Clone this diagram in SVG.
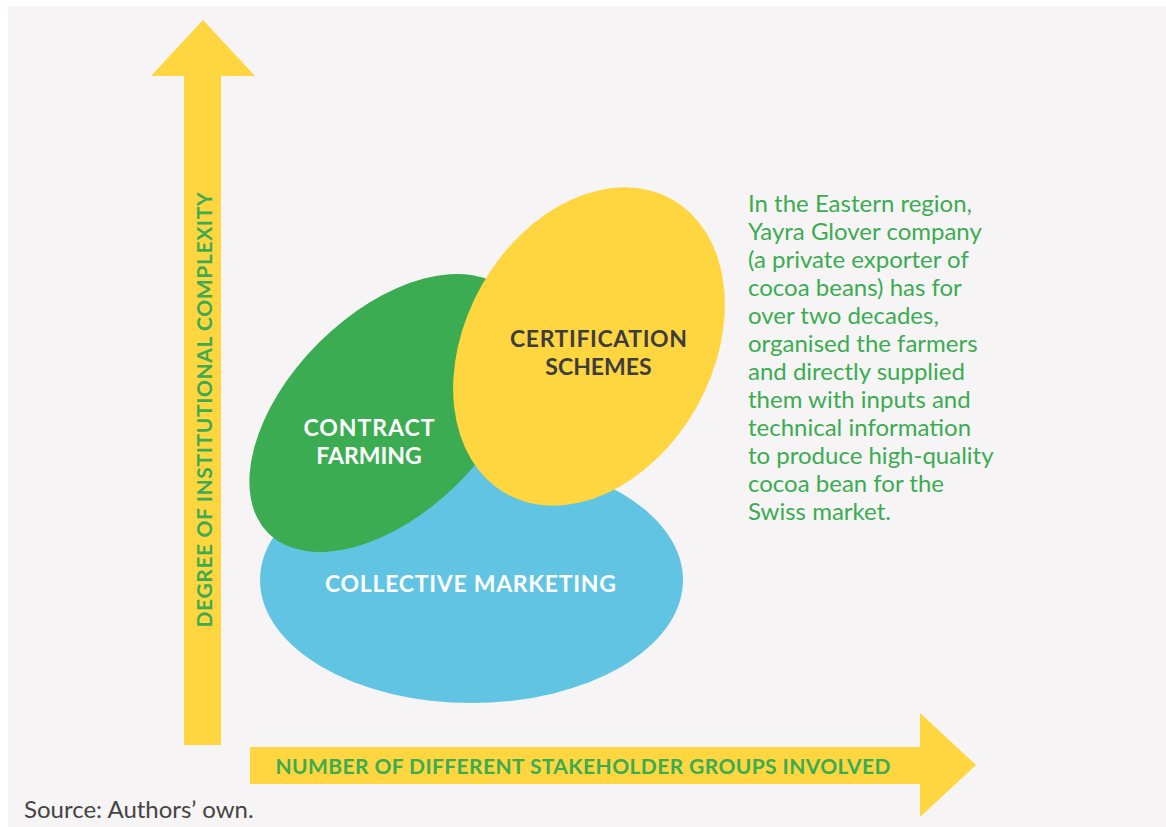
<svg xmlns="http://www.w3.org/2000/svg" width="1166" height="827" viewBox="0 0 1166 827">
<style>
.lbl{font-family:Lato,"Open Sans","Liberation Sans",sans-serif;font-weight:700;}
.axis{fill:#3BAC52;font-size:21px;}
.node{font-size:23px;text-anchor:middle;}
.para{font-family:Lato,"Open Sans","Liberation Sans",sans-serif;font-size:24px;fill:#3BAC52;}
.arrow{fill:#FFD63F;}
</style>
<rect x="0" y="0" width="1166" height="827" fill="#ffffff"/>
<rect x="8" y="6" width="1158" height="821" fill="#F6F4F4"/>
<g id="axes">
<polygon class="arrow" points="203,20 255,76 221,76 221,745 184,745 184,76 151,76"/>
<polygon class="arrow" points="250,747 920,747 920,713 976,765 920,817 920,784 250,784"/>
<text class="lbl axis" transform="translate(212,410) rotate(-90)" text-anchor="middle" textLength="435">DEGREE OF INSTITUTIONAL COMPLEXITY</text>
<text class="lbl axis" x="583" y="774" text-anchor="middle" textLength="615">NUMBER OF DIFFERENT STAKEHOLDER GROUPS INVOLVED</text>
</g>
<g id="collective-marketing">
<ellipse cx="471.5" cy="580" rx="211.5" ry="123" fill="#62C4E3"/>
</g>
<g id="contract-farming">
<ellipse cx="0" cy="0" rx="170" ry="99" fill="#3BAC52" transform="translate(388.5,413) rotate(-45)"/>
</g>
<g id="certification-schemes">
<ellipse cx="0" cy="0" rx="169" ry="123.5" fill="#FFD63F" transform="translate(589,346.5) rotate(-60.6)"/>
</g>
<g id="labels">
<text class="lbl node" x="470.5" y="592" fill="#ffffff" textLength="291">COLLECTIVE MARKETING</text>
<text class="lbl node" x="369" y="436" fill="#ffffff" textLength="131">CONTRACT</text>
<text class="lbl node" x="369" y="464" fill="#ffffff">FARMING</text>
<text class="lbl node" x="598.5" y="347" fill="#3D3D3D" textLength="177">CERTIFICATION</text>
<text class="lbl node" x="598.5" y="375" fill="#3D3D3D">SCHEMES</text>
</g>
<g id="note">
<text class="para" x="748" y="212">In the Eastern region,</text>
<text class="para" x="748" y="240">Yayra Glover company</text>
<text class="para" x="748" y="268">(a private exporter of</text>
<text class="para" x="748" y="296">cocoa beans) has for</text>
<text class="para" x="748" y="324">over two decades,</text>
<text class="para" x="748" y="352">organised the farmers</text>
<text class="para" x="748" y="380">and directly supplied</text>
<text class="para" x="748" y="408">them with inputs and</text>
<text class="para" x="748" y="436">technical information</text>
<text class="para" x="748" y="464">to produce high-quality</text>
<text class="para" x="748" y="492">cocoa bean for the</text>
<text class="para" x="748" y="520">Swiss market.</text>
</g>
<text x="24" y="818" font-family="Lato,'Open Sans','Liberation Sans',sans-serif" font-size="24" fill="#444444">Source: Authors’ own.</text>
</svg>
